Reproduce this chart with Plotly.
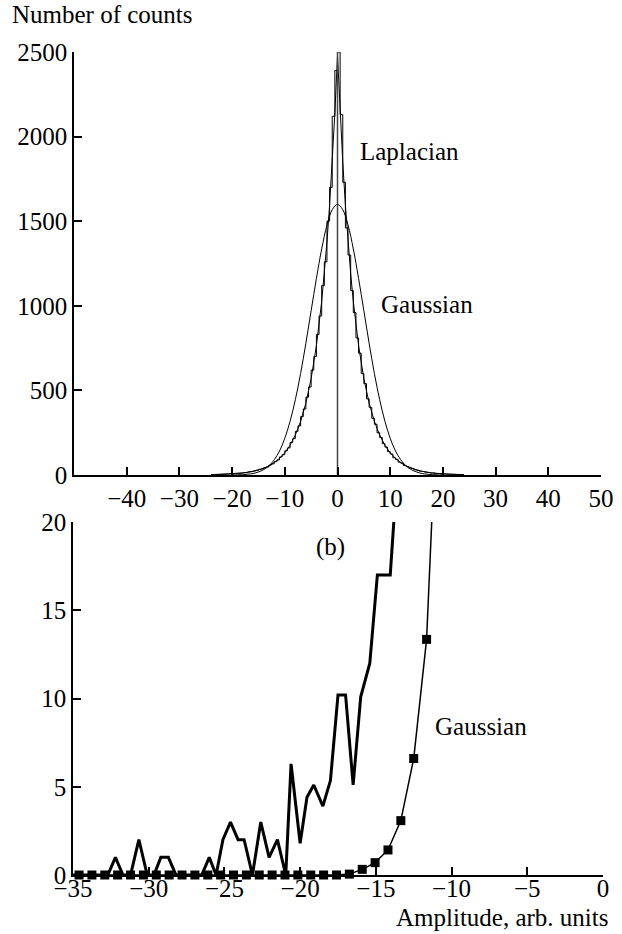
import numpy as np
import plotly.graph_objects as go

# ---------------- Panel (a) data ----------------
# Histogram: bin width 0.5, counts
HIST_BIN = 0.5
HIST_RIGHT = [2500, 2130, 1730, 1460, 1300, 1090, 960, 810, 720, 600, 540, 450, 400, 335,
              300, 250, 222, 185, 165, 138, 124, 102, 92, 76, 70, 56, 50, 42, 38, 31, 28,
              23, 21, 17, 15, 12, 12, 9, 9, 7, 6, 5, 4, 4, 3, 2, 2, 1]
HIST_LEFT = [2390, 2120, 1700, 1500, 1260, 1120, 940, 830, 700, 620, 520, 460, 390, 345,
             290, 258, 215, 192, 160, 143, 120, 107, 89, 79, 66, 59, 48, 44, 36, 33, 27,
             24, 20, 18, 14, 13, 11, 10, 8, 7, 6, 5, 4, 3, 3, 2, 2, 1]

# Smooth fitted curves (half profiles, symmetric)
GAUSS_X = [0, 1, 2, 3, 4, 5, 6, 7, 8, 9, 10, 11, 12, 13, 14, 15, 16, 17, 18, 19, 20]
GAUSS_Y = [1600, 1568, 1477, 1336, 1162, 971, 779, 600, 445, 317, 217, 142, 90, 54, 32,
           18, 9, 5, 2, 1, 0]
LAPL_X = [0, 0.5, 1, 1.5, 2, 2.5, 3, 4, 5, 6, 7, 8, 9, 10, 11, 12, 13, 14, 15, 16, 18,
          20, 22, 24]
LAPL_Y = [2480, 2140, 1848, 1595, 1377, 1189, 1026, 765, 570, 425, 317, 236, 176, 131, 98,
          73, 54, 40, 30, 22, 12, 7, 4, 2]

TOP_XTICKS = [-40, -30, -20, -10, 0, 10, 20, 30, 40, 50]
TOP_YTICKS = [0, 500, 1000, 1500, 2000, 2500]

# ---------------- Panel (b) data ----------------
DATA_X = [-35.0, -34.5, -34.0, -33.5, -33.0, -32.7, -32.2, -31.7, -31.2, -30.65, -30.1,
          -29.65, -29.2, -28.7, -28.2, -27.7, -27.1, -26.5, -26.0, -25.55, -25.1, -24.6,
          -24.1, -23.7, -23.15, -22.6, -22.05, -21.5, -20.95, -20.6, -20.0, -19.55, -19.1,
          -18.5, -18.0, -17.5, -17.0, -16.5, -16.0, -15.4, -14.9, -14.45, -14.05, -13.5]
DATA_Y = [0, 0, 0, 0, 0, 0, 1, 0, 0, 2, 0,
          0, 1, 1, 0, 0, 0, 0, 1, 0, 2, 3,
          2, 2, 0, 3, 1, 2, 0, 6.3, 1.8, 4.4, 5.1,
          3.9, 5.35, 10.2, 10.2, 5.1, 10.1, 12.0, 17.0, 17.0, 17.0, 24]

GAUSS_B_X = [-34.6, -33.75, -32.9, -32.05, -31.2, -30.35, -29.5, -28.65, -27.8, -26.95,
             -26.1, -25.25, -24.4, -23.55, -22.7, -21.85, -21.0, -20.15, -19.3, -18.45,
             -17.6, -16.75, -15.9, -15.05, -14.2, -13.35, -12.5, -11.65]
GAUSS_B_Y = [0, 0, 0, 0, 0, 0, 0, 0, 0, 0,
             0, 0, 0, 0, 0, 0, 0, 0, 0, 0,
             0, 0.05, 0.32, 0.7, 1.42, 3.08, 6.6, 13.35]
GAUSS_B_EXT_X = [-10.8]
GAUSS_B_EXT_Y = [30]

BOT_XTICKS = [-35, -30, -25, -20, -15, -10, -5, 0]
BOT_YTICKS = [0, 5, 10, 15, 20]

# ---------------- Build ----------------
FONT = "Liberation Serif"
FS = 25

n = len(HIST_RIGHT)
right_edges = np.arange(n + 1) * HIST_BIN
left_edges = -np.arange(n + 1) * HIST_BIN
hx = list(left_edges[::-1]) + list(right_edges[1:])
hy_bins = HIST_LEFT[::-1] + HIST_RIGHT
hy = hy_bins + [hy_bins[-1]]

gx = [-v for v in GAUSS_X[::-1]] + GAUSS_X[1:]
gy = GAUSS_Y[::-1] + GAUSS_Y[1:]
lx = [-v for v in LAPL_X[::-1]] + LAPL_X[1:]
ly = LAPL_Y[::-1] + LAPL_Y[1:]

fig = go.Figure()
fig.add_trace(go.Scatter(x=gx, y=gy, mode="lines", line=dict(color="black", width=1, shape="spline"),
                         xaxis="x", yaxis="y", showlegend=False))
fig.add_trace(go.Scatter(x=lx, y=ly, mode="lines", line=dict(color="black", width=1),
                         xaxis="x", yaxis="y", showlegend=False))
fig.add_trace(go.Scatter(x=hx, y=hy, mode="lines", line=dict(color="black", width=1, shape="hv"),
                         xaxis="x", yaxis="y", showlegend=False))
peak = max(HIST_RIGHT + HIST_LEFT)
fig.add_trace(go.Scatter(x=[0, 0], y=[0, peak], mode="lines", line=dict(color="#444", width=1.5),
                         xaxis="x", yaxis="y", showlegend=False))

fig.add_trace(go.Scatter(x=DATA_X, y=DATA_Y, mode="lines", line=dict(color="black", width=3),
                         xaxis="x2", yaxis="y2", showlegend=False))
fig.add_trace(go.Scatter(x=GAUSS_B_X + GAUSS_B_EXT_X, y=GAUSS_B_Y + GAUSS_B_EXT_Y, mode="lines",
                         line=dict(color="black", width=1.5),
                         xaxis="x2", yaxis="y2", showlegend=False))
fig.add_trace(go.Scatter(x=GAUSS_B_X, y=GAUSS_B_Y, mode="markers",
                         marker=dict(color="black", size=9, symbol="square"),
                         xaxis="x2", yaxis="y2", showlegend=False, cliponaxis=False))

W, H = 622, 934
axis_common = dict(showline=True, linecolor="black", linewidth=1.5, ticks="inside", ticklen=8,
                   tickwidth=1.5, tickcolor="black", showgrid=False, zeroline=False,
                   automargin=False,
                   tickfont=dict(family=FONT, size=FS, color="black"))

fig.update_layout(
    template="none",
    width=W, height=H, margin=dict(l=0, r=0, t=0, b=0),
    paper_bgcolor="white", plot_bgcolor="white",
    xaxis=dict(domain=[74 / W, 601 / W], range=[-50, 50], tickvals=TOP_XTICKS, anchor="y", **axis_common),
    yaxis=dict(domain=[1 - 475 / H, 1 - 52 / H], range=[0, 2500], tickvals=TOP_YTICKS, anchor="x", **axis_common),
    xaxis2=dict(domain=[73 / W, 603 / W], range=[-35, 0], tickvals=BOT_XTICKS, anchor="y2",
                ticklabelstandoff=-10, **axis_common),
    yaxis2=dict(domain=[1 - 875 / H, 1 - 522 / H], range=[0, 20], tickvals=BOT_YTICKS, anchor="x2", **axis_common),
)

tf = dict(family=FONT, size=FS, color="black")
ann = [
    dict(text="Number of counts", xref="paper", yref="paper", x=10 / W, y=1 - 14 / H,
         xanchor="left", yanchor="middle"),
    dict(text="(a)", xref="x", yref="y", x=0, y=2570, xanchor="center", yanchor="middle"),
    dict(text="Laplacian", xref="x", yref="y", x=3.8, y=1909, xanchor="left", yanchor="middle"),
    dict(text="Gaussian", xref="x", yref="y", x=7.8, y=1005, xanchor="left", yanchor="middle"),
    dict(text="(b)", xref="x2", yref="y2", x=-18.0, y=18.6, xanchor="center", yanchor="middle"),
    dict(text="Gaussian", xref="x2", yref="y2", x=-11.2, y=8.4, xanchor="left", yanchor="middle"),
    dict(text="Amplitude, arb. units", xref="paper", yref="paper", x=610 / W, y=1 - 917 / H,
         xanchor="right", yanchor="middle"),
]
for a in ann:
    a.update(showarrow=False, font=tf)
fig.update_layout(annotations=ann)

fig.write_html("out.html")
